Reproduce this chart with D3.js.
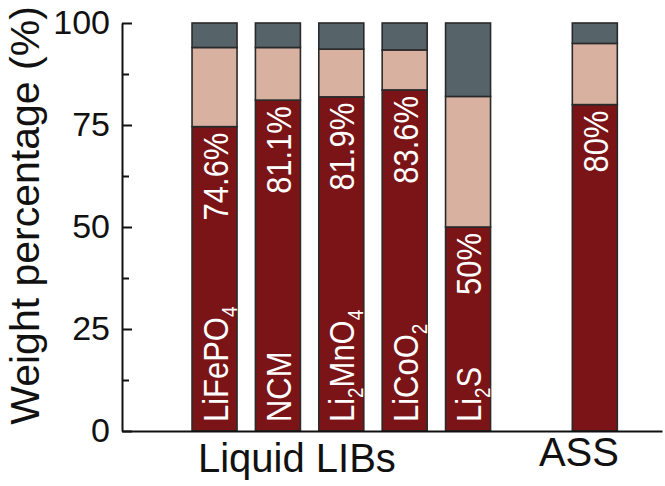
<!DOCTYPE html>
<html>
<head>
<meta charset="utf-8">
<script src="https://cdn.jsdelivr.net/npm/d3@7"></script>
<style>
  html, body { margin: 0; padding: 0; background: #fff; }
  svg { display: block; font-family: 'Liberation Sans', Arial, sans-serif; }
</style>
</head>
<body>
<div id="chart"></div>
<script>
// bar names; "_n" marks a subscript digit
const names = ['LiFePO_4', 'NCM', 'Li_2MnO_4', 'LiCoO_2', 'Li_2S', ''];
const positions = [1, 2, 3, 4, 5, 7];
const activePct = [74.6, 81.1, 81.9, 83.6, 50, 80];
const midPct = [19.4, 12.9, 11.7, 9.8, 32, 15];
const topPct = [6, 6, 6.4, 6.6, 18, 5];
const pctLabels = ['74.6%', '81.1%', '81.9%', '83.6%', '50%', '80%'];
const groups = ['Liquid LIBs', 'ASS'];
const groupPos = [2.3, 6.75];
const yTicks = [0, 25, 50, 75, 100];
const yMinor = [12.5, 37.5, 62.5, 87.5];

const W = 665, H = 486;
const M = { top: 23, right: 3, bottom: 55, left: 122 };
const COLORS = { active: '#7a1416', mid: '#d8b1a1', top: '#56646a' };

const rows = names.map((n, i) => ({
  name: n, pos: positions[i], active: activePct[i], mid: midPct[i], top: topPct[i], label: pctLabels[i],
}));

const svg = d3.select('#chart').append('svg')
  .attr('width', W).attr('height', H);

const x = d3.scaleLinear().domain([-0.46, 8.06]).range([M.left, W - M.right]);
const y = d3.scaleLinear().domain([0, 100]).range([H - M.bottom, M.top]);
const barW = 45;

const stack = d3.stack().keys(['active', 'mid', 'top'])(rows);

svg.append('g')
  .selectAll('g')
  .data(stack)
  .join('g')
  .attr('fill', (s) => COLORS[s.key])
  .selectAll('rect')
  .data((s) => s)
  .join('rect')
  .attr('x', (d) => x(d.data.pos) - barW / 2)
  .attr('y', (d) => y(d[1]))
  .attr('width', barW)
  .attr('height', (d) => y(d[0]) - y(d[1]))
  .attr('stroke', '#2a2a2a')
  .attr('stroke-width', 1.6);

// labels inside bars, rotated
const lbl = svg.append('g')
  .attr('fill', '#fff')
  .attr('font-size', 36);

rows.forEach((d) => {
  if (d.name) {
    const t = lbl.append('text')
      .attr('transform', `translate(${x(d.pos) + 13},${y(0) - 9}) rotate(-90) scale(0.86,1)`)
      .attr('text-anchor', 'start');
    let shift = 0;
    d.name.split(/(_\d)/).filter((s) => s).forEach((part) => {
      if (part[0] === '_') {
        t.append('tspan').attr('font-size', 22).attr('dy', 9 - shift).text(part.slice(1));
        shift = 9;
      } else {
        t.append('tspan').attr('dy', -shift).text(part);
        shift = 0;
      }
    });
  }
  lbl.append('text')
    .attr('transform', `translate(${x(d.pos) + 13},${y(d.active) + 6}) rotate(-90) scale(0.86,1)`)
    .attr('text-anchor', 'end')
    .text(d.label);
});

// y axis
const yAxis = svg.append('g')
  .attr('transform', `translate(${M.left},0)`)
  .call(d3.axisLeft(y).tickValues(yTicks).tickSizeInner(-10).tickSizeOuter(0).tickPadding(12));
yAxis.selectAll('text').attr('font-size', 34).attr('fill', '#111');
yAxis.selectAll('line').attr('stroke', '#111').attr('stroke-width', 2);
yAxis.select('.domain').attr('stroke', '#111').attr('stroke-width', 2);

const yMinorAxis = svg.append('g')
  .attr('transform', `translate(${M.left},0)`)
  .call(d3.axisLeft(y).tickValues(yMinor).tickSize(-7).tickFormat(''));
yMinorAxis.select('.domain').remove();
yMinorAxis.selectAll('text').remove();
yMinorAxis.selectAll('line').attr('stroke', '#111').attr('stroke-width', 2);

// x axis line only
const xAxis = svg.append('g')
  .attr('transform', `translate(0,${y(0)})`)
  .call(d3.axisBottom(x).tickValues([]).tickSizeOuter(0));
xAxis.select('.domain').attr('stroke', '#111').attr('stroke-width', 2);

// group labels
svg.append('g')
  .selectAll('text')
  .data(groups)
  .join('text')
  .attr('x', (g, i) => x(groupPos[i]))
  .attr('y', (g, i) => (i === 0 ? 472 : 466))
  .attr('text-anchor', 'middle')
  .attr('font-size', 40)
  .attr('fill', '#111')
  .text((g) => g);

// y title
svg.append('text')
  .attr('transform', `translate(39,${y(0) / 2}) rotate(-90)`)
  .attr('text-anchor', 'middle')
  .attr('font-size', 41)
  .attr('fill', '#111')
  .text('Weight percentage (%)');
</script>
</body>
</html>
